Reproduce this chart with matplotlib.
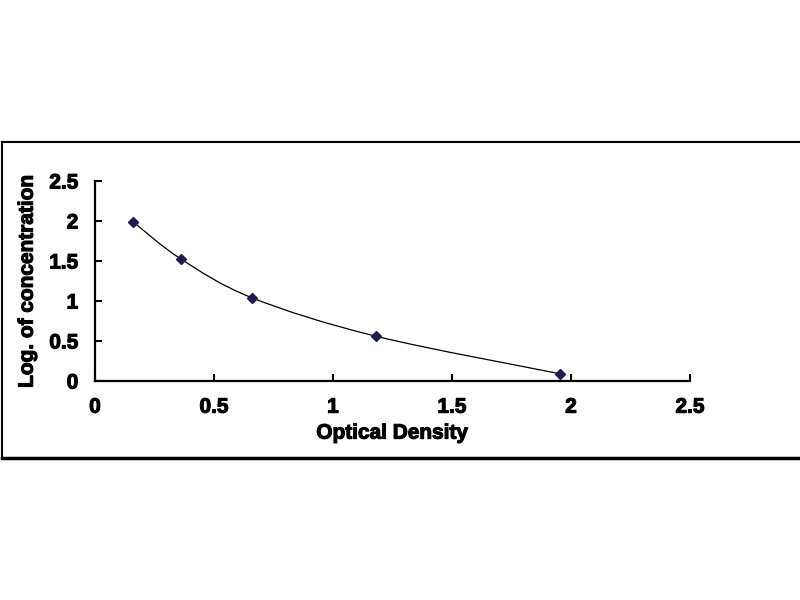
import matplotlib
matplotlib.use('Agg')
import matplotlib.pyplot as plt
from matplotlib.path import Path
from matplotlib.patches import PathPatch
from matplotlib.lines import Line2D
import matplotlib.patheffects as pe
import numpy as np

# standard curve
optical_density = [0.16, 0.361, 0.66, 1.18, 1.954]
log_concentration = [1.99, 1.525, 1.04, 0.56, 0.09]

x_ticks = [0, 0.5, 1, 1.5, 2, 2.5]
x_tick_labels = ['0', '0.5', '1', '1.5', '2', '2.5']
y_ticks = [0, 0.5, 1, 1.5, 2, 2.5]
y_tick_labels = ['0', '0.5', '1', '1.5', '2', '2.5']

plt.rcParams['font.family'] = ['Liberation Sans', 'DejaVu Sans']
plt.rcParams['font.weight'] = 'bold'

fig = plt.figure(figsize=(8, 6), dpi=100)
ax = fig.add_axes([95/800, 1 - 381/600, 595/800, 200/600])

# smooth line like a spreadsheet: bezier segments between the points
pts = np.column_stack([optical_density, log_concentration])
verts = [tuple(pts[0])]
codes = [Path.MOVETO]
n = len(pts)
for i in range(n - 1):
    p0 = pts[i - 1] if i > 0 else pts[i]
    p1 = pts[i]
    p2 = pts[i + 1]
    p3 = pts[i + 2] if i + 2 < n else pts[i + 1]
    c1 = p1 + (p2 - p0) / 6
    c2 = p2 - (p3 - p1) / 6
    verts += [tuple(c1), tuple(c2), tuple(p2)]
    codes += [Path.CURVE4, Path.CURVE4, Path.CURVE4]
ax.add_patch(PathPatch(Path(verts, codes), facecolor='none', edgecolor='black', lw=0.9))

ax.plot(optical_density, log_concentration, 'D', color='#1c1c50', markersize=5.5, zorder=3)

heavy = [pe.withStroke(linewidth=0.8, foreground='black')]

ax.set_xlim(0, 2.5)
ax.set_ylim(0, 2.5)
ax.set_xticks(x_ticks)
ax.set_xticklabels(x_tick_labels)
ax.set_yticks(y_ticks)
ax.set_yticklabels(y_tick_labels)
ax.tick_params(direction='in', length=5, width=1.5, labelsize=15)
ax.tick_params(axis='x', pad=12)
ax.tick_params(axis='y', pad=12)
for lab in ax.get_xticklabels() + ax.get_yticklabels():
    lab.set_path_effects(heavy)
for side in ['top', 'right']:
    ax.spines[side].set_visible(False)
for side in ['left', 'bottom']:
    ax.spines[side].set_linewidth(1.6)

ax.set_xlabel('Optical Density', fontsize=15, fontweight='bold', labelpad=5,
              path_effects=heavy)
ax.set_ylabel('Log. of concentration', fontsize=15, fontweight='bold', labelpad=9,
              path_effects=heavy)

# outer frame of the chart area
fig.add_artist(Line2D([2/800, 1], [1 - 142/600, 1 - 142/600], color='black', lw=1.5))
fig.add_artist(Line2D([2/800, 1], [1 - 458/600, 1 - 458/600], color='black', lw=2.5))
fig.add_artist(Line2D([2/800, 2/800], [1 - 142/600, 1 - 458/600], color='black', lw=1.5))

plt.savefig('out.png', dpi=100)
